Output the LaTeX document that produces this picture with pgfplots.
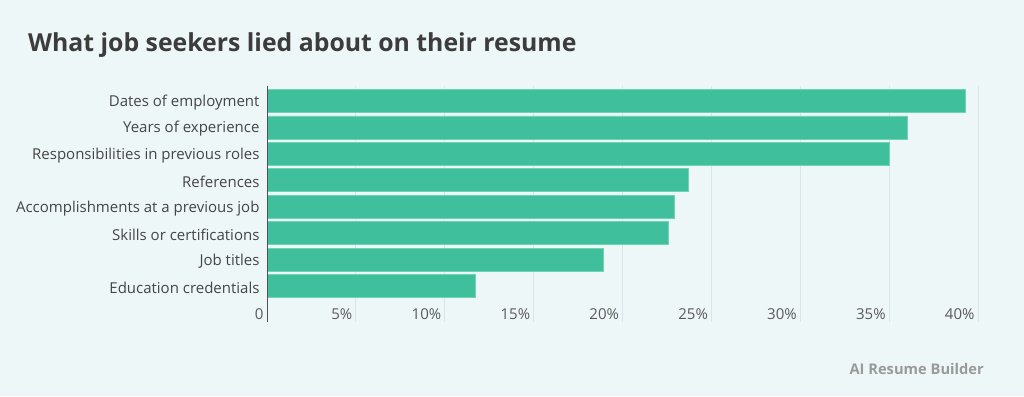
\documentclass[border=0pt]{standalone}
\usepackage{pgfplots}
\pgfplotsset{compat=1.18}
\usepackage{fontspec}
\setmainfont{Open Sans}
\definecolor{bg}{HTML}{EEF7F8}
\definecolor{barc}{HTML}{40BF9C}
\definecolor{barline}{HTML}{6FD3B6}
\definecolor{gridc}{HTML}{D8E6E8}
\definecolor{titlec}{HTML}{3C3C3C}
\definecolor{labc}{HTML}{454545}
\definecolor{tickc}{HTML}{5A5A5A}
\definecolor{axc}{HTML}{505050}
\definecolor{wm}{HTML}{9A9A9A}
\pgfplotstableread{
idx val
0 39.3
1 36.0
2 35.0
3 23.7
4 22.9
5 22.6
6 18.9
7 11.7
}\lied
\begin{document}
\begin{tikzpicture}[x=1pt,y=1pt]
\fill[bg] (0,0) rectangle (1024,396);
\node[anchor=base west, font=\fontsize{24.8}{30}\selectfont\bfseries, text=titlec, inner sep=0] at (28,344) {What job seekers lied about on their resume};
\node[anchor=base east, font=\fontsize{14.7}{18}\selectfont\bfseries, text=wm, inner sep=0] at (984,21.5) {AI Resume Builder};
\begin{axis}[
  at={(267pt,310pt)}, anchor=north west,
  scale only axis, width=711pt, height=236pt,
  xmin=0, xmax=40, ymin=-0.567, ymax=8.36,
  y dir=reverse,
  xbar, bar width=23pt,
  axis line style={draw=none},
  major tick length=0pt,
  xtick={0,5,...,40},
  xticklabels={0,5\%,10\%,15\%,20\%,25\%,30\%,35\%,40\%},
  ytick={0,...,7},
  yticklabels={Dates of employment,Years of experience,Responsibilities in previous roles,References,Accomplishments at a previous job,Skills or certifications,Job titles,Education credentials},
  xmajorgrids, grid style={gridc, line width=0.8pt},
  /pgf/number format/assume math mode=true,
  tick label style={font=\fontsize{15}{18}\selectfont},
  yticklabel style={text=labc, xshift=-4pt, yshift=-1.5pt},
  xticklabel style={text=tickc, anchor=base east, yshift=2pt},
]
\addplot[fill=barc, draw=barline, line width=0.6pt] table[x=val, y=idx] {\lied};
\draw[axc, line width=1.6pt] (axis cs:0,-0.567) -- (axis cs:0,8.36);
\end{axis}
\end{tikzpicture}
\end{document}
